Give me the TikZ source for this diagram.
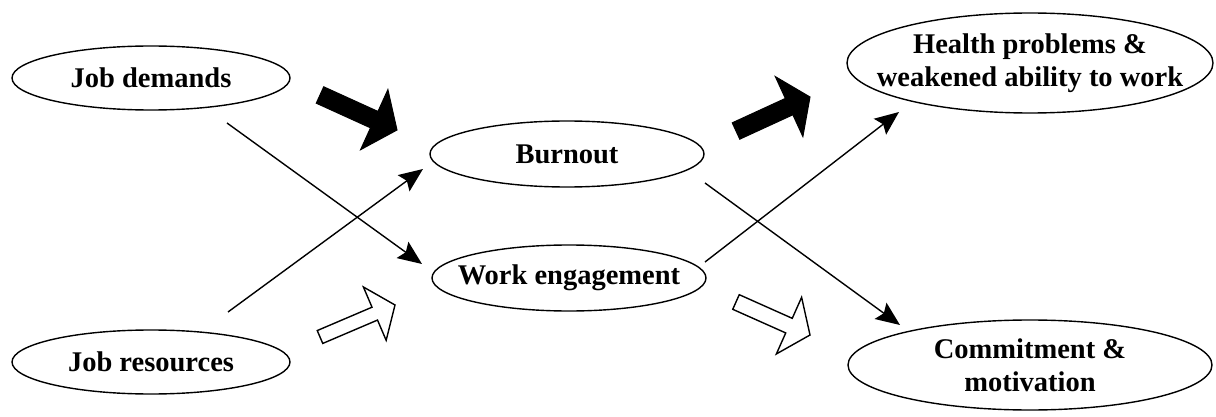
\documentclass[tikz,border=0pt]{standalone}
\usepackage{fontspec}
\setmainfont{Liberation Serif}
\usetikzlibrary{shapes.geometric,arrows.meta,calc}
\newcommand\blockarr[6]{%
  \coordinate (BAtail) at (#2);
  \coordinate (BAtip) at (#3);
  \coordinate (BAbase) at ($(BAtip)!#6!(BAtail)$);
  \draw[#1] ($(BAtail)!#4!90:(BAtip)$) -- ($(BAbase)!#4!-90:(BAtail)$) -- ($(BAbase)!#5!-90:(BAtail)$) -- (BAtip) -- ($(BAbase)!#5!90:(BAtail)$) -- ($(BAbase)!#4!90:(BAtail)$) -- ($(BAtail)!#4!-90:(BAtip)$) -- cycle;
}
\begin{document}
\begin{tikzpicture}[x=1pt,y=-1pt,
  oval/.style={ellipse, draw, line width=1.4pt, inner sep=0pt},
  lbl/.style={inner sep=0pt, align=center, font=\fontsize{28.5}{33}\selectfont\bfseries},
  thin/.style={line width=1.4pt, -{Stealth[length=24pt,width=20pt,inset=4pt]}},
  blackarr/.style={fill=black, draw=black, line width=1pt, line join=miter},
  whitearr/.style={fill=white, draw=black, line width=1.4pt, line join=miter}]
\useasboundingbox (0,0) rectangle (1216,417);
\node[oval, minimum width=278pt, minimum height=64pt] (jd) at (151,78) {};
\node[lbl] (jdt) at (jd.center) {Job demands};
\node[oval, minimum width=278pt, minimum height=64pt] (jr) at (151,362) {};
\node[lbl] (jrt) at (jr.center) {Job resources};
\node[oval, minimum width=274pt, minimum height=66pt] (bo) at (567,154) {};
\node[lbl] (bot) at (bo.center) {Burnout};
\node[oval, minimum width=274pt, minimum height=66pt] (we) at (569,278) {};
\node[lbl] (wet) at (we.center) {Work engagement};
\node[oval, minimum width=366pt, minimum height=100pt] (hp) at (1030,63) {};
\node[lbl] (hpt) at (hp.center) {Health problems \&\\weakened ability to work};
\node[oval, minimum width=364pt, minimum height=90pt] (cm) at (1030,365) {};
\node[lbl] (cmt) at (cm.center) {Commitment \&\\motivation};
% connector ends
\coordinate (jdout) at (227,123);
\coordinate (wein) at (422,264);
\coordinate (jrout) at (228,312);
\coordinate (boin) at (423,169);
\coordinate (boout) at (705,183);
\coordinate (cmin) at (900,325);
\coordinate (weout) at (705,262);
\coordinate (hpin) at (899,112);
\draw[thin] (jdout) -- (wein);
\draw[thin] (jrout) -- (boin);
\draw[thin] (boout) -- (cmin);
\draw[thin] (weout) -- (hpin);
% block arrows
\blockarr{blackarr}{320,95}{397,130}{9pt}{33pt}{25pt}
\blockarr{blackarr}{736,131}{810,97}{9pt}{33pt}{23pt}
\blockarr{whitearr}{320,337}{395,305}{7pt}{29pt}{22pt}
\blockarr{whitearr}{736,302}{810,335}{8pt}{31pt}{23pt}
\end{tikzpicture}
\end{document}
